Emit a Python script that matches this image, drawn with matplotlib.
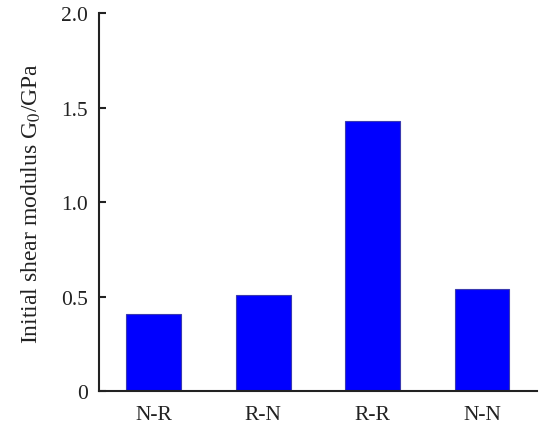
import matplotlib
matplotlib.use("Agg")
import matplotlib.pyplot as plt

# Data
groups = ["N-R", "R-N", "R-R", "N-N"]
g0_values = [0.41, 0.51, 1.43, 0.54]
y_ticks = [0, 0.5, 1.0, 1.5, 2.0]
y_tick_labels = ["0", "0.5", "1.0", "1.5", "2.0"]

plt.rcParams['font.family'] = ['Liberation Serif', 'DejaVu Serif']
plt.rcParams['mathtext.fontset'] = 'stix'

fig = plt.figure(figsize=(5.5, 4.39), dpi=100)
ax = fig.add_axes([0.18, 0.107, 0.796, 0.861])

x = range(len(groups))
ax.bar(x, g0_values, width=0.5, color="#0000ff", edgecolor="#3a3ab0", linewidth=0.8, zorder=2)

ax.set_xlim(-0.5, 3.5)
ax.set_ylim(0, 2.0)
ax.set_xticks(list(x))
ax.set_xticklabels(groups)
ax.set_yticks(y_ticks)
ax.set_yticklabels(y_tick_labels)

# Only left and bottom axis lines, ticks pointing inwards
ax.spines['top'].set_visible(False)
ax.spines['right'].set_visible(False)
for side in ['left', 'bottom']:
    ax.spines[side].set_linewidth(1.5)
    ax.spines[side].set_color("#222222")
ax.tick_params(direction='in', length=5, width=1.5, labelsize=15.5, colors="#222222", pad=8)
ax.tick_params(axis='x', pad=10)

ax.set_ylabel("Initial shear modulus G$_0$/GPa", fontsize=17, color="#222222", labelpad=13)

plt.savefig("out.png", dpi=100)
